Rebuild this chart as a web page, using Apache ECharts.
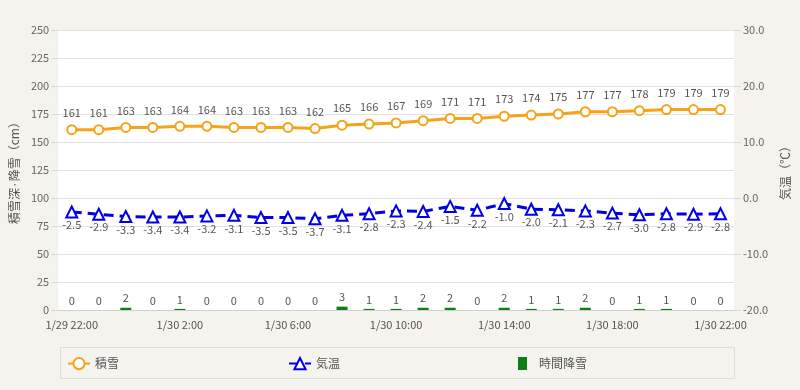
<!DOCTYPE html>
<html>
<head>
<meta charset="utf-8">
<script src="https://cdn.jsdelivr.net/npm/echarts@6/dist/echarts.min.js"></script>
<style>
html,body{margin:0;padding:0;background:#f4f3ee;}
#c{width:800px;height:390px;}
</style>
</head>
<body>
<div id="c"></div>
<script>
var categories = ['1/29 22:00','1/29 23:00','1/30 0:00','1/30 1:00','1/30 2:00','1/30 3:00','1/30 4:00','1/30 5:00','1/30 6:00','1/30 7:00','1/30 8:00','1/30 9:00','1/30 10:00','1/30 11:00','1/30 12:00','1/30 13:00','1/30 14:00','1/30 15:00','1/30 16:00','1/30 17:00','1/30 18:00','1/30 19:00','1/30 20:00','1/30 21:00','1/30 22:00'];
var snowDepth = [161,161,163,163,164,164,163,163,163,162,165,166,167,169,171,171,173,174,175,177,177,178,179,179,179];
var temperature = [-2.5,-2.9,-3.3,-3.4,-3.4,-3.2,-3.1,-3.5,-3.5,-3.7,-3.1,-2.8,-2.3,-2.4,-1.5,-2.2,-1.0,-2.0,-2.1,-2.3,-2.7,-3.0,-2.8,-2.9,-2.8];
var hourlySnow = [0,0,2,0,1,0,0,0,0,0,3,1,1,2,2,0,2,1,1,2,0,1,1,0,0];

var FONT = '"Noto Sans CJK JP", "Noto Sans", sans-serif';
var chart = echarts.init(document.getElementById('c'), null, {renderer:'canvas'});
chart.setOption({
  backgroundColor: '#f4f3ee',
  textStyle: {fontFamily: FONT},
  animation: false,
  graphic: [{
    type: 'rect', left: 60, top: 347, z: -1,
    shape: {width: 674, height: 31},
    style: {fill: 'transparent', stroke: '#dcdcd8', lineWidth: 1}
  }],
  grid: {left: 58, right: 66, top: 30, bottom: 80, show: true, backgroundColor: '#ffffff', borderWidth: 0},
  legend: [
    {left: 62, top: 352, itemWidth: 22, itemHeight: 14, data: ['積雪'], textStyle: {color: '#555', fontSize: 12, fontFamily: FONT}},
    {left: 283, top: 352, itemWidth: 22, itemHeight: 14, data: ['気温'], textStyle: {color: '#555', fontSize: 12, fontFamily: FONT}},
    {left: 513, top: 352, itemWidth: 9, itemHeight: 13, data: [{name: '時間降雪', icon: 'rect'}], textStyle: {color: '#555', fontSize: 12, fontFamily: FONT, padding: [0,0,0,7]}}
  ],
  xAxis: {
    type: 'category', data: categories, boundaryGap: true,
    axisLine: {lineStyle: {color: '#d0d0d0'}},
    axisTick: {show: false},
    axisLabel: {interval: 3, color: '#555', fontSize: 11, margin: 9, fontFamily: FONT}
  },
  yAxis: [
    {
      type: 'value', min: 0, max: 250, interval: 25,
      name: '積雪深·降雪（cm）', nameLocation: 'middle', nameGap: 37,
      nameTextStyle: {color: '#555', fontSize: 12, fontFamily: FONT},
      axisLine: {show: false},
      axisTick: {show: true, length: 7, lineStyle: {color: '#d8d8d8'}},
      axisLabel: {color: '#666', fontSize: 11, margin: 9, fontFamily: FONT},
      splitLine: {lineStyle: {color: '#e0e0e0'}}
    },
    {
      type: 'value', min: -20, max: 30, interval: 10,
      name: '気温（℃）', nameLocation: 'middle', nameGap: 42,
      nameTextStyle: {color: '#555', fontSize: 12, fontFamily: FONT},
      axisLine: {show: false},
      axisTick: {show: true, length: 7, lineStyle: {color: '#d8d8d8'}},
      axisLabel: {color: '#666', fontSize: 11, margin: 9, fontFamily: FONT, formatter: function(v){return v.toFixed(1);}},
      splitLine: {show: false}
    }
  ],
  series: [
    {
      name: '時間降雪', type: 'bar', yAxisIndex: 0, data: hourlySnow, barWidth: 11,
      itemStyle: {color: '#0e7d14'},
      label: {show: true, position: 'top', color: '#555', fontSize: 11, distance: 4, fontFamily: FONT},
      z: 2
    },
    {
      name: '積雪', type: 'line', yAxisIndex: 0, data: snowDepth,
      symbol: 'circle', symbolSize: 9,
      lineStyle: {color: '#f5a319', width: 3},
      itemStyle: {color: '#ffffff', borderColor: '#f5a319', borderWidth: 2},
      label: {show: true, position: 'top', color: '#555', fontSize: 11, distance: 6, fontFamily: FONT},
      z: 4
    },
    {
      name: '気温', type: 'line', yAxisIndex: 1, data: temperature,
      symbol: 'triangle', symbolSize: 11,
      lineStyle: {color: '#0000e6', width: 3, type: [10, 6]},
      itemStyle: {color: '#ffffff', borderColor: '#0000e6', borderWidth: 2},
      label: {show: true, position: 'bottom', color: '#555', fontSize: 11, distance: 1, fontFamily: FONT, formatter: function(p){return p.value.toFixed(1);}},
      z: 5
    }
  ]
});
</script>
</body>
</html>
